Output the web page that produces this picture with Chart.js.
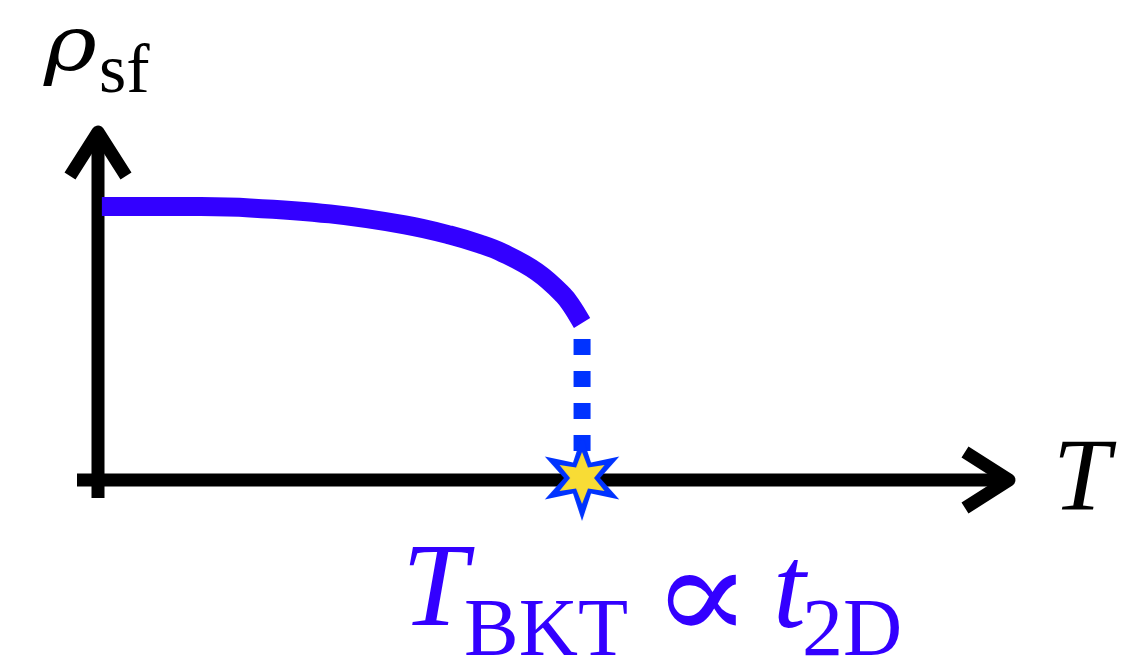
<!DOCTYPE html>
<html>
<head>
<meta charset="utf-8">
<title>Superfluid stiffness vs temperature</title>
<script src="https://cdn.jsdelivr.net/npm/chart.js@4.4.1/dist/chart.umd.min.js"></script>
<style>
  html, body { margin: 0; padding: 0; background: #fff; }
  canvas { display: block; }
</style>
</head>
<body>
<canvas id="rho-chart" width="1133" height="667"></canvas>
<script>
// temperature in units of T_BKT, stiffness in units of rho_sf(0)
const tempValues = [0.008, 0.19, 0.314, 0.479, 0.634, 0.727, 0.789, 0.837, 0.907, 0.961, 0.981, 1.0];
const rhoValues  = [0.998, 0.998, 0.993, 0.971, 0.931, 0.894, 0.861, 0.828, 0.759, 0.675, 0.628, 0.573];
const T_BKT = 1.0;
const X_MAX = 1.882;
const Y_MAX = 1.27;

const CURVE_BLUE = '#3300ff';
const DASH_BLUE = '#0033ff';
const SERIF = '"Liberation Serif", "DejaVu Serif", serif';

// six-pointed star sprite used as the point style at T_BKT
function makeStar() {
    const c = document.createElement('canvas');
    c.width = 90; c.height = 90;
    const g = c.getContext('2d');
    const cx = 45, cy = 43;
    function star(rOut, rIn, fill) {
        g.beginPath();
        for (let i = 0; i < 12; i++) {
            const r = i % 2 === 0 ? rOut : rIn;
            const a = -Math.PI / 2 + i * Math.PI / 6;
            const px = cx + r * Math.cos(a), py = cy + r * Math.sin(a);
            if (i === 0) g.moveTo(px, py); else g.lineTo(px, py);
        }
        g.closePath();
        g.fillStyle = fill;
        g.fill();
    }
    star(43, 18, DASH_BLUE);
    star(26, 12, '#f8dc35');
    return c;
}

// stretch a glyph so its ink fills the given box
function fitText(ctx, text, font, left, top, right, bottom) {
    ctx.save();
    ctx.font = font;
    ctx.textAlign = 'left';
    ctx.textBaseline = 'alphabetic';
    const m = ctx.measureText(text);
    const w = m.actualBoundingBoxLeft + m.actualBoundingBoxRight;
    const h = m.actualBoundingBoxAscent + m.actualBoundingBoxDescent;
    const sx = (right - left) / w, sy = (bottom - top) / h;
    ctx.translate(left, top);
    ctx.scale(sx, sy);
    ctx.fillText(text, m.actualBoundingBoxLeft, m.actualBoundingBoxAscent);
    ctx.restore();
}

const curvePoints = tempValues.map((t, i) => ({ x: t, y: rhoValues[i] }));
const dropPoints = [{ x: T_BKT, y: rhoValues[rhoValues.length - 1] }, { x: T_BKT, y: 0 }];

// black axes with open arrow heads
const axisArrows = {
    id: 'axisArrows',
    beforeDatasetsDraw(chart) {
        const ctx = chart.ctx;
        const xs = chart.scales.x, ys = chart.scales.y;
        const x0 = xs.getPixelForValue(0), y0 = ys.getPixelForValue(0);
        const xTip = xs.getPixelForValue(X_MAX), yTip = ys.getPixelForValue(Y_MAX);
        ctx.save();
        ctx.strokeStyle = '#000';
        ctx.lineWidth = 13;
        ctx.lineCap = 'butt';
        ctx.lineJoin = 'round';
        ctx.beginPath();
        ctx.moveTo(x0 - 21, y0);
        ctx.lineTo(xTip, y0);
        ctx.moveTo(x0, y0 + 18);
        ctx.lineTo(x0, yTip);
        ctx.stroke();
        ctx.beginPath();
        ctx.moveTo(xTip - 44, y0 - 28);
        ctx.lineTo(xTip, y0);
        ctx.lineTo(xTip - 44, y0 + 28);
        ctx.moveTo(x0 - 28, yTip + 44);
        ctx.lineTo(x0, yTip);
        ctx.lineTo(x0 + 28, yTip + 44);
        ctx.stroke();
        ctx.restore();
    }
};

// axis names and the T_BKT annotation
const mathLabels = {
    id: 'mathLabels',
    afterDraw(chart) {
        const ctx = chart.ctx;
        ctx.save();
        ctx.textAlign = 'left';
        ctx.textBaseline = 'alphabetic';
        ctx.fillStyle = '#000';
        fitText(ctx, 'ρ', 'italic 90px "DejaVu Serif", serif', 43, 29, 97, 86);
        ctx.font = '70px ' + SERIF;
        ctx.fillText('sf', 99, 92);
        ctx.font = 'italic 103px ' + SERIF;
        ctx.fillText('T', 1053, 510);

        ctx.fillStyle = CURVE_BLUE;
        ctx.font = 'italic 118px ' + SERIF;
        ctx.fillText('T', 402, 625);
        ctx.font = '82px ' + SERIF;
        ctx.fillText('BKT', 464, 655);
        fitText(ctx, '∝', '118px "DejaVu Serif", serif', 667, 573, 737, 626);
        ctx.font = 'italic 118px ' + SERIF;
        ctx.fillText('t', 773, 627);
        ctx.font = '82px ' + SERIF;
        ctx.fillText('2D', 802, 655);
        ctx.restore();
    }
};

new Chart(document.getElementById('rho-chart').getContext('2d'), {
    type: 'line',
    data: {
        datasets: [
            {
                label: 'rho_sf',
                data: curvePoints,
                borderColor: CURVE_BLUE,
                borderWidth: 19,
                borderCapStyle: 'butt',
                tension: 0.4,
                pointRadius: 0,
                fill: false,
                clip: false,
                order: 2
            },
            {
                label: 'jump',
                data: dropPoints,
                borderColor: DASH_BLUE,
                borderWidth: 17,
                borderCapStyle: 'butt',
                borderDash: [16, 16],
                borderDashOffset: 16,
                pointRadius: 0,
                fill: false,
                clip: false,
                order: 1
            },
            {
                label: 'T_BKT',
                data: [{ x: T_BKT, y: 0 }],
                showLine: false,
                pointStyle: makeStar(),
                pointRadius: 40,
                clip: false,
                order: 0
            }
        ]
    },
    options: {
        responsive: false,
        animation: false,
        events: [],
        layout: { padding: { left: 98, right: 124, top: 132, bottom: 187 } },
        plugins: { legend: { display: false }, tooltip: { enabled: false } },
        scales: {
            x: { type: 'linear', min: 0, max: X_MAX, display: false },
            y: { type: 'linear', min: 0, max: Y_MAX, display: false }
        }
    },
    plugins: [axisArrows, mathLabels]
});
</script>
</body>
</html>
